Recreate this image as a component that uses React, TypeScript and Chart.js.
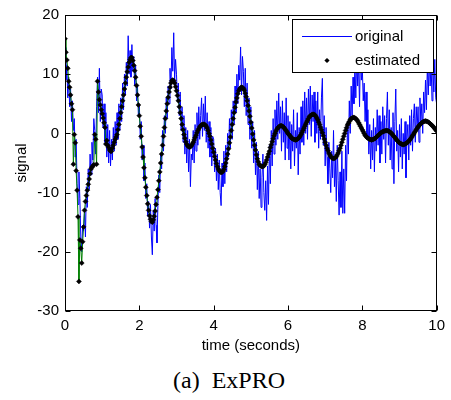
import React, { useEffect, useRef } from "react";
import { Chart, registerables } from "chart.js";

Chart.register(...registerables);

// ---------- data ----------
const X_MIN = 0;
const X_MAX = 10;
const Y_MIN = -30;
const Y_MAX = 20;
const X_TICK_STEP = 2;
const Y_TICK_STEP = 10;

const ORIGINAL_DT = 0.025; // sampling step of the noisy signal (s)
const ESTIMATED_DT = 0.025; // sampling step of the estimate (s)

const ORIGINAL: number[] = [
  14.5, 9.0, 11.5, 6.0, 9.5, 4.5, 7.5, 2.0, 5.5, 0.5, 2.5, -4.0, -1.0, -8.5, -12.0, -6.5, -11.0, -17.5, -20.0, -15.5,
  -16.5, -13.0, -17.5, -9.0, -12.5, -6.0, -9.5, -3.5, -7.0, -1.5, -4.5, 2.5, 0.5, -3.5, 4.5, 9.5, 3.5, 11.0, 2.0, 7.5,
  6.5, 1.0, 5.0, -1.5, 3.5, -4.0, 1.5, -5.0, 0.5, -5.5, -1.0, -4.5, 1.0, -3.0, 2.0, -2.0, 3.5, -1.0, 5.0, 0.5,
  6.0, 2.0, 8.5, 4.0, 10.0, 6.5, 12.0, 8.0, 16.5, 10.0, 14.0, 9.5, 15.0, 10.5, 13.0, 8.0, 11.5, 5.5, 8.0, 3.0,
  5.0, -1.0, 2.0, -4.5, -2.0, -8.0, -5.0, -11.0, -8.5, -14.0, -11.5, -16.0, -12.0, -17.5, -20.5, -13.0, -16.5, -11.0, -15.5, -18.5,
  -12.0, -7.0, -10.0, -3.5, -6.0, 0.5, -3.0, 3.0, 0.0, 6.0, 2.5, 8.0, 5.0, 11.0, 7.5, 14.5, 10.5, 17.0, 9.0, 12.5,
  10.0, 5.5, 8.5, 3.0, 7.0, 0.5, 4.5, -1.5, 3.0, -3.5, 1.0, -5.0, 0.5, -6.5, -1.0, -9.0, -3.5, -4.5, 0.5, -5.0,
  1.5, -3.0, 3.5, -2.0, 4.5, -1.0, 3.0, 6.0, -0.5, 5.0, 0.5, 6.3, -1.5, 3.5, -2.5, 2.0, -4.0, 1.0, -5.5, -0.5,
  -1.0, -6.5, -2.5, -8.0, -3.5, -9.5, -4.5, -10.0, -12.2, -5.0, -9.0, -3.0, -8.5, -2.0, -6.5, 0.0, -4.0, 2.5, -2.5, 4.0,
  -1.0, 5.5, 1.5, 8.0, 3.5, 10.0, 5.0, 11.5, 9.0, 14.6, 6.5, 13.0, 10.5, 4.5, 11.0, 3.0, 8.5, 1.5, 6.0, -1.0,
  4.5, -2.5, 2.0, -5.0, 0.5, -7.0, -1.5, -9.5, -3.0, -11.0, -6.0, -12.5, -7.5, -3.5, -10.0, -13.0, -8.0, -14.7, -5.5, -12.0,
  -2.0, -8.5, 0.5, -5.5, 2.5, -3.5, 4.0, -2.0, 5.5, -1.0, 6.8, 0.0, 4.5, -3.0, 5.5, -1.5, 3.5, -4.5, 6.0, -2.5,
  3.0, -4.5, 2.0, -6.0, 1.5, -3.0, 4.0, -5.5, 0.5, -2.5, 3.5, -7.0, 1.0, -3.5, 4.5, -1.5, 5.5, -2.0, 7.0, 0.0,
  6.0, -1.0, 7.5, 1.5, 8.0, -0.5, 6.5, 2.0, 7.0, -1.5, 5.5, 0.0, 7.0, -2.5, 4.0, -1.0, 6.0, 9.3, -2.0, 3.0,
  -5.5, 1.0, -4.0, -8.5, -1.5, -6.0, -10.0, -3.0, -7.5, 0.5, -9.0, -4.5, -11.5, -2.0, -8.0, -13.8, -6.5, -12.5, -3.0, -13.5,
  -6.0, -13.5, -2.0, -8.0, 2.0, -3.5, 5.5, 0.0, 8.0, 3.0, 9.5, 5.0, 11.5, 6.0, 13.5, 8.0, 12.0, 4.5, 14.5, 9.0,
  11.0, 5.5, 8.5, 2.0, 7.0, -1.0, 4.0, -3.5, 1.5, -6.0, 0.5, -4.5, 2.5, -6.5, 1.0, -3.0, 4.0, -2.0, 3.0, -5.0,
  2.0, -3.5, 4.5, -1.0, 3.0, -5.0, 2.5, 7.0, -2.0, 4.0, -4.5, 1.0, -6.0, 3.5, -8.5, 2.0, 7.5, -3.0, 0.5, -6.5,
  1.5, -4.0, 2.5, -6.0, 0.0, -3.5, 2.0, -7.5, -1.0, 1.5, -4.5, 3.0, -2.0, 4.0, -3.0, 2.5, 5.0, -1.5, 4.5, 1.0,
  4.5, -1.5, 6.0, 2.0, 5.0, 0.0, 7.0, 3.5, 9.0, 4.0, 11.5, 6.5, 13.0, 8.0, 12.0, 5.5, 10.5, 7.0, 12.5, 6.0,
  5.0,
];

const ESTIMATED: number[] = [
  16.0, 13.7, 12.4, 11.0, 8.8, 7.8, 6.5, 5.0, 4.0, -5.2, -0.2, -1.6, -6.3, -9.6, -14.1, -25.0, -18.0, -19.4, -21.9, -18.3,
  -15.8, -13.0, -11.5, -10.5, -9.6, -8.6, -7.7, -6.8, -6.0, -5.7, -5.5, -5.3, -0.2, -1.0, -5.2, 8.8, 7.0, 5.7, 4.8, 4.0,
  3.3, 2.6, 1.8, 1.0, -1.8, -1.2, -2.0, -2.4, -2.8, -3.0, -3.0, -2.5, -2.0, -1.5, -1.0, -0.6, -0.2, 0.6, 1.5, 2.5,
  3.5, 4.5, 5.5, 6.5, 7.5, 8.5, 9.5, 10.4, 11.2, 12.0, 12.5, 12.8, 12.8, 12.3, 11.5, 10.6, 9.5, 8.1, 6.5, 4.8,
  3.0, 1.2, -0.5, -2.3, -4.0, -5.8, -7.5, -9.1, -10.5, -11.9, -13.0, -13.9, -14.5, -14.9, -15.0, -14.6, -14.0, -13.1, -12.0, -10.8,
  -9.5, -8.0, -6.5, -5.0, -3.5, -2.0, -0.5, 1.0, 2.5, 3.8, 5.0, 6.1, 7.0, 7.8, 8.5, 8.9, 9.0, 8.9, 8.5, 7.9,
  7.2, 6.4, 5.5, 4.5, 3.5, 2.5, 1.5, 0.6, -0.2, -0.8, -1.4, -1.8, -2.1, -2.25, -2.3, -2.25, -2.1, -1.8, -1.5, -1.1,
  -0.7, -0.3, 0.1, 0.5, 0.8, 1.1, 1.3, 1.45, 1.5, 1.55, 1.5, 1.4, 1.2, 0.9, 0.5, 0.0, -0.5, -1.1, -1.8, -2.5,
  -3.2, -3.9, -4.5, -5.1, -5.6, -6.0, -6.3, -6.5, -6.6, -6.55, -6.4, -6.1, -5.6, -5.0, -4.3, -3.5, -2.6, -1.6, -0.6, 0.5,
  1.5, 2.5, 3.5, 4.4, 5.3, 6.0, 6.7, 7.2, 7.5, 7.7, 7.8, 7.75, 7.6, 7.3, 6.8, 6.2, 5.5, 4.7, 3.8, 2.9,
  1.9, 0.9, -0.1, -1.1, -2.0, -2.8, -3.6, -4.3, -4.8, -5.2, -5.4, -5.55, -5.6, -5.6, -5.5, -5.25, -4.9, -4.5, -4.0, -3.5,
  -3.0, -2.4, -1.9, -1.4, -0.9, -0.4, 0.0, 0.4, 0.7, 0.9, 1.1, 1.2, 1.3, 1.3, 1.2, 1.1, 0.9, 0.7, 0.5, 0.25,
  0.0, -0.2, -0.4, -0.6, -0.8, -0.9, -1.0, -1.05, -1.1, -1.05, -1.0, -0.85, -0.7, -0.45, -0.2, 0.15, 0.5, 0.85, 1.2, 1.55,
  1.9, 2.2, 2.5, 2.8, 3.0, 3.1, 3.2, 3.25, 3.2, 3.1, 2.9, 2.6, 2.3, 1.9, 1.5, 1.05, 0.6, 0.1, -0.4, -0.95,
  -1.5, -2.0, -2.5, -2.9, -3.3, -3.6, -3.9, -4.1, -4.2, -4.25, -4.2, -4.1, -3.9, -3.6, -3.3, -2.9, -2.5, -2.0, -1.5, -1.0,
  -0.5, 0.0, 0.5, 0.95, 1.4, 1.7, 2.0, 2.3, 2.5, 2.6, 2.7, 2.7, 2.6, 2.5, 2.3, 2.1, 1.8, 1.5, 1.2, 0.9,
  0.6, 0.3, 0.0, -0.3, -0.5, -0.7, -0.8, -0.9, -1.0, -1.05, -1.1, -1.05, -1.0, -0.9, -0.8, -0.65, -0.5, -0.35, -0.2, -0.05,
  0.1, 0.2, 0.3, 0.35, 0.4, 0.45, 0.5, 0.45, 0.4, 0.3, 0.2, 0.05, -0.1, -0.3, -0.5, -0.7, -0.9, -1.1, -1.3, -1.45,
  -1.6, -1.7, -1.8, -1.85, -1.9, -1.85, -1.8, -1.7, -1.6, -1.45, -1.3, -1.1, -0.9, -0.65, -0.4, -0.15, 0.1, 0.35, 0.6, 0.85,
  1.1, 1.3, 1.5, 1.65, 1.8, 1.9, 2.0, 2.05, 2.1, 2.05, 2.0, 1.9, 1.8, 1.65, 1.5, 1.35, 1.2, 1.0, 0.8, 0.6,
  0.4,
];

const LEGEND_LABELS = ["original", "estimated"];
const X_TITLE = "time (seconds)";
const Y_TITLE = "signal";
const CAPTION = "(a)  ExPRO";

// ---------- layout / style ----------
const W = 451;
const H = 360;
const PLOT = { left: 65, right: 439, top: 12.5, bottom: 311 };
const FONT = "'Liberation Sans', Arial, sans-serif";
const BLUE = "#0000ff";
const GREEN = "#008000";
const TICK_LEN = 5;

const toPoints = (vals: number[], dt: number) =>
  vals.map((v, i) => ({ x: Math.round(i * dt * 1000) / 1000, y: v }));

const framePlugin = {
  id: "matlabFrame",
  afterDatasetsDraw(chart: any) {
    const { ctx, chartArea: a, scales } = chart;
    const xs = scales.x;
    const ys = scales.y;
    const L = Math.round(a.left) + 0.5;
    const R = Math.round(a.right) - 0.5;
    const T = Math.round(a.top) + 0.5;
    const B = Math.round(a.bottom) - 0.5;
    ctx.save();
    ctx.strokeStyle = "#000";
    ctx.lineWidth = 1;
    ctx.strokeRect(L, T, R - L, B - T);
    ctx.beginPath();
    xs.ticks.forEach((t: any) => {
      const px = Math.round(xs.getPixelForValue(t.value)) + 0.5;
      ctx.moveTo(px, B);
      ctx.lineTo(px, B - TICK_LEN);
      ctx.moveTo(px, T);
      ctx.lineTo(px, T + TICK_LEN);
    });
    ys.ticks.forEach((t: any) => {
      const py = Math.round(ys.getPixelForValue(t.value)) + 0.5;
      ctx.moveTo(L, py);
      ctx.lineTo(L + TICK_LEN, py);
      ctx.moveTo(R, py);
      ctx.lineTo(R - TICK_LEN, py);
    });
    ctx.stroke();

    // legend box (MATLAB style, inside the axes, north-east)
    const bx = 292.5, by = 19.5, bw = 141, bh = 53;
    ctx.fillStyle = "#fff";
    ctx.fillRect(bx, by, bw, bh);
    ctx.strokeRect(bx, by, bw, bh);
    const row1 = 36.5, row2 = 60.5;
    ctx.strokeStyle = BLUE;
    ctx.beginPath();
    ctx.moveTo(302, row1);
    ctx.lineTo(352, row1);
    ctx.stroke();
    ctx.fillStyle = "#000";
    ctx.beginPath();
    const r = 2.6, cx = 327;
    ctx.moveTo(cx, row2 - r);
    ctx.lineTo(cx + r, row2);
    ctx.lineTo(cx, row2 + r);
    ctx.lineTo(cx - r, row2);
    ctx.closePath();
    ctx.fill();
    ctx.font = `15px ${FONT}`;
    ctx.textBaseline = "middle";
    ctx.textAlign = "left";
    ctx.fillText(LEGEND_LABELS[0], 355, row1);
    ctx.fillText(LEGEND_LABELS[1], 355, row2);
    ctx.restore();
  },
};

export default function App() {
  const ref = useRef<HTMLCanvasElement | null>(null);

  useEffect(() => {
    if (!ref.current) return;
    const chart = new Chart(ref.current, {
      type: "line",
      data: {
        datasets: [
          {
            label: LEGEND_LABELS[1],
            data: toPoints(ESTIMATED, ESTIMATED_DT),
            showLine: false,
            pointStyle: "rectRot",
            pointRadius: 2.5,
            pointBackgroundColor: "#000",
            pointBorderColor: "#000",
            pointBorderWidth: 0.5,
            order: 0,
          },
          {
            label: "estimated-line",
            data: toPoints(ESTIMATED, ESTIMATED_DT),
            borderColor: GREEN,
            borderWidth: 1,
            pointRadius: 0,
            tension: 0,
            order: 1,
          },
          {
            label: LEGEND_LABELS[0],
            data: toPoints(ORIGINAL, ORIGINAL_DT),
            borderColor: BLUE,
            borderWidth: 1,
            pointRadius: 0,
            tension: 0,
            order: 2,
          },
        ],
      },
      options: {
        animation: false,
        responsive: false,
        devicePixelRatio: 1,
        layout: {
          padding: { left: 0, top: PLOT.top, right: W - PLOT.right, bottom: 0 },
        },
        plugins: {
          legend: { display: false },
          tooltip: { enabled: false },
        },
        scales: {
          x: {
            type: "linear",
            min: X_MIN,
            max: X_MAX,
            border: { display: false },
            grid: { display: false, drawTicks: false },
            ticks: {
              stepSize: X_TICK_STEP,
              color: "#000",
              font: { family: FONT, size: 15 },
              padding: 6,
              maxRotation: 0,
            },
            title: {
              display: true,
              text: X_TITLE,
              color: "#000",
              font: { family: FONT, size: 15 },
              padding: { top: 0, bottom: 5 },
            },
            afterFit: (s: any) => {
              s.height = H - PLOT.bottom;
            },
          },
          y: {
            type: "linear",
            min: Y_MIN,
            max: Y_MAX,
            border: { display: false },
            grid: { display: false, drawTicks: false },
            ticks: {
              stepSize: Y_TICK_STEP,
              color: "#000",
              font: { family: FONT, size: 15 },
              padding: 6,
            },
            title: {
              display: true,
              text: Y_TITLE,
              color: "#000",
              font: { family: FONT, size: 15 },
              padding: { top: 13, bottom: 0 },
            },
            afterFit: (s: any) => {
              s.width = PLOT.left;
            },
          },
        },
      },
      plugins: [framePlugin],
    });
    return () => chart.destroy();
  }, []);

  return (
    <div style={{ position: "absolute", left: 0, top: 0, width: W, height: 400, background: "#fff" }}>
      <canvas ref={ref} width={W} height={H} style={{ display: "block", width: W, height: H }} />
      <div
        style={{
          position: "absolute",
          left: 0,
          top: 366,
          width: 458,
          textAlign: "center",
          fontFamily: "'Liberation Serif', 'Times New Roman', serif",
          fontSize: 24,
          lineHeight: "28px",
          whiteSpace: "pre",
          color: "#000",
        }}
      >
        {CAPTION}
      </div>
    </div>
  );
}
